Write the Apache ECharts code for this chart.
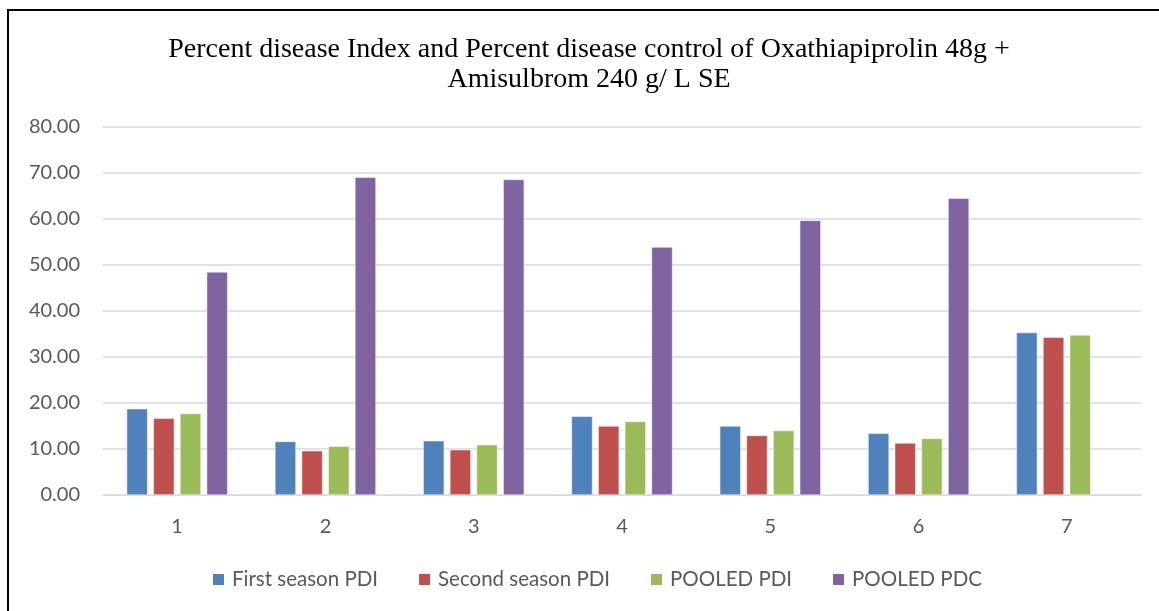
<!DOCTYPE html>
<html>
<head>
<meta charset="utf-8">
<title>Percent disease Index and Percent disease control</title>
<script src="https://cdn.jsdelivr.net/npm/echarts@6/dist/echarts.min.js"></script>
<style>
  html, body { margin: 0; padding: 0; background: #fff; }
  #frame {
    position: absolute; left: 7px; top: 9px; width: 1200px; height: 700px;
    border-left: 2px solid #000; border-top: 2px solid #000;
  }
  #chart { position: absolute; left: 0; top: 0; width: 1159px; height: 611px; }
</style>
</head>
<body>
<div id="frame"></div>
<div id="chart"></div>
<script>
// Treatments on the x axis
const categories = ['1', '2', '3', '4', '5', '6', '7'];

// Values
const firstSeasonPDI = [18.75, 11.65, 11.80, 17.10, 15.00, 13.40, 35.30];
const secondSeasonPDI = [16.70, 9.60, 9.85, 15.00, 12.95, 11.30, 34.30];
const pooledPDI = [17.70, 10.60, 10.90, 16.00, 14.00, 12.30, 34.80];
const pooledPDC = [48.50, 69.10, 68.60, 53.90, 59.70, 64.50, null];

const seriesNames = ['First season PDI', 'Second season PDI', 'POOLED PDI', 'POOLED PDC'];
const seriesColors = ['#4F81BD', '#C0504D', '#9BBB59', '#8064A2'];
const seriesData = [firstSeasonPDI, secondSeasonPDI, pooledPDI, pooledPDC];

const labelFont = 'Lato, "Open Sans", sans-serif';

const chart = echarts.init(document.getElementById('chart'));

chart.setOption({
  animation: false,
  title: {
    text: 'Percent disease Index and Percent disease control of Oxathiapiprolin 48g +\nAmisulbrom 240 g/ L SE',
    left: 584,
    top: 30,
    textAlign: 'center',
    textStyle: {
      fontFamily: '"Liberation Serif", "Times New Roman", serif',
      fontWeight: 'normal',
      fontSize: 28,
      lineHeight: 30,
      color: '#000'
    }
  },
  legend: {
    bottom: 16,
    left: 206,
    itemWidth: 13,
    itemHeight: 13,
    itemGap: 39,
    icon: 'rect',
    textStyle: { fontFamily: labelFont, fontSize: 20.5, color: '#595959', padding: [0, 0, 0, 2] },
    data: seriesNames
  },
  grid: { left: 103, right: 18, top: 127, bottom: 116 },
  xAxis: {
    type: 'category',
    data: categories,
    axisLine: { lineStyle: { color: '#d9d9d9', width: 1 } },
    axisTick: { show: false },
    axisLabel: { fontFamily: labelFont, fontSize: 20, color: '#595959', margin: 22 }
  },
  yAxis: {
    type: 'value',
    min: 0,
    max: 80,
    interval: 10,
    axisLine: { show: false },
    axisTick: { show: false },
    splitLine: { lineStyle: { color: '#d9d9d9', width: 1.5 } },
    axisLabel: {
      fontFamily: labelFont, fontSize: 20, color: '#595959', margin: 23,
      formatter: v => v.toFixed(2)
    }
  },
  series: seriesNames.map((name, i) => ({
    name: name,
    type: 'bar',
    data: seriesData[i],
    barWidth: 21,
    barGap: '27%',
    itemStyle: { color: seriesColors[i], borderColor: '#fff', borderWidth: 0.5 }
  }))
});
</script>
</body>
</html>
